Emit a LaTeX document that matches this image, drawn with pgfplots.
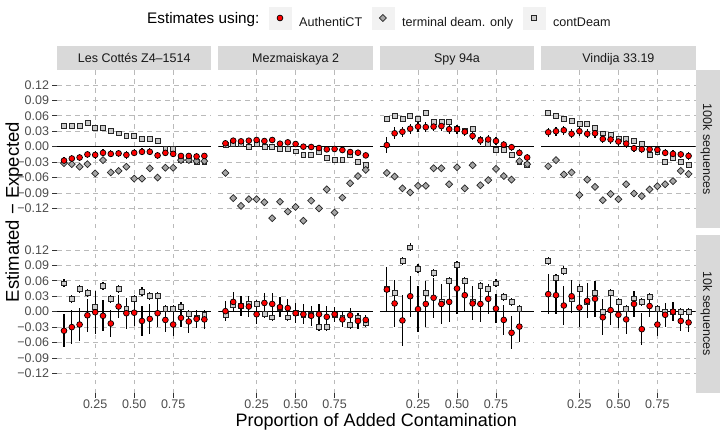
\documentclass[border=0pt]{standalone}
\usepackage{fontspec}
\setmainfont{Liberation Sans}
\usepackage{pgfplots}
\usepackage{pgfplotstable}
\pgfplotsset{compat=1.18}
\definecolor{redpt}{RGB}{255,0,0}

% x = proportion; a = AuthentiCT, ae = its error; t = terminal deam. only; c = contDeam
\pgfplotstableread{
x a ae t c
0.05 -0.027 0.007 -0.032 0.040
0.10 -0.023 0.007 -0.034 0.040
0.15 -0.021 0.007 -0.039 0.040
0.20 -0.015 0.007 -0.034 0.046
0.25 -0.016 0.007 -0.052 0.036
0.30 -0.012 0.007 -0.026 0.036
0.35 -0.014 0.007 -0.050 0.031
0.40 -0.013 0.007 -0.047 0.026
0.45 -0.016 0.007 -0.039 0.021
0.50 -0.012 0.007 -0.062 0.021
0.55 -0.010 0.007 -0.062 0.016
0.60 -0.010 0.007 -0.042 0.016
0.65 -0.017 0.007 -0.060 0.011
0.70 -0.012 0.007 -0.041 -0.005
0.75 -0.014 0.007 -0.041 -0.005
0.80 -0.018 0.006 -0.026 -0.026
0.85 -0.018 0.006 -0.026 -0.026
0.90 -0.019 0.006 -0.028 -0.030
0.95 -0.018 0.006 -0.028 -0.030
}\LCu
\pgfplotstableread{
x a ae t c
0.05 0.0065 0.005 -0.051 0.004
0.10 0.0117 0.005 -0.100 0.006
0.15 0.0104 0.005 -0.115 0.005
0.20 0.0117 0.005 -0.102 0.000
0.25 0.0130 0.005 -0.102 0.005
0.30 0.0110 0.005 -0.108 0.000
0.35 0.0130 0.005 -0.139 0.000
0.40 0.0058 0.005 -0.107 -0.005
0.45 0.0084 0.005 -0.126 -0.005
0.50 0.0052 0.005 -0.117 -0.009
0.55 0.0000 0.005 -0.144 -0.016
0.60 -0.0006 0.005 -0.105 -0.016
0.65 -0.0026 0.005 -0.120 -0.010
0.70 -0.0052 0.005 -0.083 -0.021
0.75 -0.0045 0.005 -0.128 -0.025
0.80 -0.0065 0.005 -0.099 -0.025
0.85 -0.0104 0.005 -0.071 -0.016
0.90 -0.0117 0.005 -0.057 -0.030
0.95 -0.0169 0.005 -0.045 -0.036
}\MZu
\pgfplotstableread{
x a ae t c
0.05 0.003 0.015 -0.051 0.054
0.10 0.026 0.012 -0.058 0.060
0.15 0.029 0.010 -0.081 0.054
0.20 0.035 0.010 -0.089 0.060
0.25 0.039 0.010 -0.076 0.054
0.30 0.038 0.010 -0.076 0.065
0.35 0.039 0.009 -0.042 0.049
0.40 0.040 0.009 -0.042 0.049
0.45 0.034 0.009 -0.073 0.049
0.50 0.034 0.009 -0.040 0.034
0.55 0.029 0.008 -0.081 0.030
0.60 0.021 0.008 -0.036 0.035
0.65 0.012 0.008 -0.075 0.013
0.70 0.014 0.008 -0.065 0.006
0.75 0.011 0.008 -0.043 -0.006
0.80 0.004 0.007 -0.057 -0.006
0.85 -0.001 0.007 -0.064 -0.015
0.90 -0.012 0.007 -0.028 -0.030
0.95 -0.021 0.007 -0.034 -0.036
}\SPu
\pgfplotstableread{
x a ae t c
0.05 0.028 0.009 -0.038 0.065
0.10 0.030 0.009 -0.026 0.060
0.15 0.032 0.009 -0.054 0.054
0.20 0.025 0.009 -0.050 0.050
0.25 0.030 0.009 -0.094 0.045
0.30 0.025 0.009 -0.064 0.045
0.35 0.026 0.009 -0.078 0.036
0.40 0.015 0.008 -0.104 0.026
0.45 0.014 0.008 -0.092 0.023
0.50 0.010 0.008 -0.102 0.015
0.55 0.006 0.008 -0.073 0.016
0.60 -0.003 0.007 -0.091 0.011
0.65 -0.005 0.007 -0.096 0.005
0.70 -0.005 0.007 -0.083 -0.015
0.75 -0.006 0.007 -0.077 -0.010
0.80 -0.012 0.007 -0.073 -0.030
0.85 -0.014 0.007 -0.067 -0.021
0.90 -0.015 0.007 -0.047 -0.030
0.95 -0.018 0.007 -0.053 -0.036
}\VIu
\pgfplotstableread{
x a ae c ce
0.05 -0.037 0.032 0.055 0.008
0.10 -0.030 0.033 0.025 0.008
0.15 -0.025 0.032 0.044 0.008
0.20 -0.007 0.032 0.036 0.008
0.25 -0.001 0.042 0.010 0.008
0.30 -0.008 0.030 0.050 0.008
0.35 -0.023 0.027 0.025 0.008
0.40 0.010 0.023 0.044 0.008
0.45 -0.003 0.030 0.005 0.008
0.50 -0.002 0.025 0.025 0.008
0.55 -0.018 0.029 0.039 0.008
0.60 -0.014 0.029 0.030 0.008
0.65 -0.003 0.026 0.030 0.008
0.70 -0.016 0.023 0.005 0.008
0.75 -0.025 0.023 0.005 0.008
0.80 -0.012 0.018 0.010 0.008
0.85 -0.019 0.023 -0.005 0.008
0.90 -0.014 0.018 -0.011 0.008
0.95 -0.015 0.018 -0.007 0.008
}\LCl
\pgfplotstableread{
x a ae c ce
0.05 0.001 0.019 -0.006 0.008
0.10 0.019 0.019 0.013 0.008
0.15 0.011 0.019 0.011 0.008
0.20 0.010 0.020 0.015 0.008
0.25 -0.005 0.018 0.015 0.008
0.30 0.017 0.020 -0.005 0.008
0.35 0.015 0.021 -0.011 0.008
0.40 0.009 0.020 0.008 0.008
0.45 0.007 0.018 -0.011 0.008
0.50 -0.003 0.019 -0.002 0.008
0.55 -0.005 0.019 -0.006 0.008
0.60 -0.008 0.019 -0.006 0.008
0.65 -0.005 0.020 -0.030 0.008
0.70 -0.010 0.022 -0.030 0.008
0.75 -0.005 0.015 -0.006 0.008
0.80 -0.015 0.015 -0.011 0.008
0.85 -0.007 0.015 -0.026 0.008
0.90 -0.018 0.015 -0.011 0.008
0.95 -0.016 0.010 -0.022 0.008
}\MZl
\pgfplotstableread{
x a ae c ce
0.05 0.043 0.043 0.045 0.008
0.10 0.016 0.045 0.036 0.008
0.15 -0.017 0.049 0.099 0.008
0.20 0.030 0.040 0.125 0.008
0.25 0.005 0.044 0.084 0.008
0.30 0.015 0.044 0.036 0.008
0.35 0.027 0.039 0.075 0.008
0.40 0.015 0.039 0.019 0.008
0.45 0.019 0.040 0.060 0.008
0.50 0.045 0.049 0.091 0.008
0.55 0.032 0.031 0.060 0.008
0.60 0.016 0.033 0.020 0.008
0.65 0.015 0.035 0.050 0.008
0.70 0.025 0.029 0.045 0.008
0.75 0.006 0.028 0.055 0.008
0.80 -0.016 0.029 0.029 0.008
0.85 -0.041 0.032 0.019 0.008
0.90 -0.029 0.029 0.005 0.008
}\SPl
\pgfplotstableread{
x a ae c ce
0.05 0.034 0.039 0.099 0.008
0.10 0.032 0.036 0.065 0.008
0.15 0.012 0.038 0.080 0.008
0.20 0.030 0.032 0.024 0.008
0.25 0.008 0.037 0.045 0.008
0.30 0.021 0.034 0.019 0.008
0.35 0.025 0.035 0.036 0.008
0.40 -0.011 0.035 0.000 0.008
0.45 0.003 0.029 0.036 0.008
0.50 -0.006 0.025 0.019 0.008
0.55 -0.015 0.028 0.005 0.008
0.60 0.015 0.026 0.026 0.008
0.65 -0.034 0.031 0.019 0.008
0.70 0.011 0.022 0.029 0.008
0.75 -0.025 0.023 0.005 0.008
0.80 -0.006 0.023 0.000 0.008
0.85 0.000 0.019 0.000 0.008
0.90 -0.018 0.020 0.000 0.008
0.95 -0.021 0.019 0.000 0.008
}\VIl

\pgfplotsset{
 panel/.style={
  width=154.4pt, height=158pt, scale only axis,
  xmin=0.005, xmax=0.995, ymin=-0.158, ymax=0.149,
  axis line style={draw=none},
  xtick={0.25,0.5,0.75},
  ytick={-0.12,-0.09,-0.06,-0.03,0,0.03,0.06,0.09,0.12},
  xmajorgrids, ymajorgrids,
  major grid style={black!27, line width=0.8pt, dash pattern=on 4.5pt off 4.5pt},
  tick align=outside, major tick length=4.5pt,
  xtick pos=bottom, ytick pos=left,
  xtick style={draw=none}, ytick style={draw=none},
  xticklabels={}, yticklabels={},
  ticklabel style={font=\fontsize{12.5}{14}\selectfont, text=black!70},
  xticklabel style={yshift=1.2pt},
  anchor=north west,
 },
 leftcol/.style={ytick style={draw=black!80, line width=0.8pt},
   yticklabels={−0.12,−0.09,−0.06,−0.03,0.00,0.03,0.06,0.09,0.12}},
 bottomrow/.style={xtick style={draw=black!80, line width=0.8pt},
   xticklabels={0.25,0.50,0.75}},
 mka/.style={only marks, mark=*, mark size=2.9pt, mark options={fill=redpt, draw=black, line width=0.7pt}},
 mkt/.style={only marks, mark=square*, mark size=2.45pt, mark options={rotate=45, fill=black!35, draw=black!85, line width=0.7pt}},
 mkc/.style={only marks, mark=square*, mark size=2.45pt, mark options={fill=black!20, draw=black!85, line width=0.7pt}},
 ebar/.style={error bars/.cd, y dir=both, y explicit, error mark=none, error bar style={line width=1.3pt, black}},
 zero/.style={black, line width=1.1pt, no marks},
}

\newcommand\upperplots[1]{%
 \addplot[mkc] table[x=x,y=c]{#1};
 \addplot[mkt] table[x=x,y=t]{#1};
 \addplot[zero] coordinates {(0.005,0) (0.995,0)};
 \addplot[mka, ebar] table[x=x,y=a,y error=ae]{#1};
}
\newcommand\lowerplots[1]{%
 \addplot[mkc, ebar] table[x=x,y=c,y error=ce]{#1};
 \addplot[zero] coordinates {(0.005,0) (0.995,0)};
 \addplot[mka, ebar] table[x=x,y=a,y error=ae]{#1};
}

\begin{document}
\begin{tikzpicture}
\useasboundingbox (0pt,0pt) rectangle (720pt,-430pt);

% strips
\foreach \xl/\xr/\lab in {57/211.4/{Les Cottés Z4–1514}, 218.4/372.8/{Mezmaiskaya 2}, 379.8/534.2/{Spy 94a}, 541.2/695.6/{Vindija 33.19}}{
  \fill[black!15] (\xl pt,-46pt) rectangle (\xr pt,-70pt);
  \node[anchor=base, inner sep=0pt, text=black!90, font=\fontsize{12.5}{14}\selectfont] at ({(\xl+\xr)/2*1pt},-63pt) {\lab};
}
\fill[black!15] (695.6pt,-70pt) rectangle (720pt,-228pt);
\fill[black!15] (695.6pt,-235pt) rectangle (720pt,-393pt);
\node[rotate=-90, anchor=base, inner sep=0pt, text=black!90, font=\fontsize{12.5}{14}\selectfont] at (703pt,-149pt) {100k sequences};
\node[rotate=-90, anchor=base, inner sep=0pt, text=black!90, font=\fontsize{12.5}{14}\selectfont] at (703pt,-314pt) {10k sequences};

% titles
\node[anchor=base, inner sep=0pt, font=\fontsize{18}{20}\selectfont] at (376.3pt,-426.5pt) {Proportion of Added Contamination};
\node[rotate=90, anchor=base, inner sep=0pt, font=\fontsize{18.5}{20}\selectfont] at (19pt,-212pt) {Estimated − Expected};
\node[anchor=base west, inner sep=0pt, font=\fontsize{15.3}{18}\selectfont] at (147pt,-23.5pt) {Estimates using:};

% upper row
\begin{axis}[panel, leftcol, at={(57pt,-70pt)},
  legend style={at={(1.3705,1.3291)}, anchor=west, draw=none, fill=none, inner sep=0pt,
    legend columns=-1, font=\fontsize{12.6}{14}\selectfont, text=black!90,
    nodes={inner sep=0pt},
    /tikz/every odd column/.append style={column sep=8pt},
    /tikz/every even column/.append style={column sep=9.5pt}},
  legend image code/.code={\fill[black!5] (0pt,-6.5pt) rectangle (22pt,15.5pt);
    \draw[mark repeat=2,mark phase=2,#1] plot coordinates {(0pt,4.5pt) (11pt,4.5pt) (22pt,4.5pt)};}]
\addlegendimage{mka}\addlegendentry{AuthentiCT}
\addlegendimage{mkt}\addlegendentry{terminal deam. only}
\addlegendimage{mkc}\addlegendentry{contDeam}
\upperplots{\LCu}
\end{axis}
\begin{axis}[panel, at={(218.4pt,-70pt)}]
\upperplots{\MZu}
\end{axis}
\begin{axis}[panel, at={(379.8pt,-70pt)}]
\upperplots{\SPu}
\end{axis}
\begin{axis}[panel, at={(541.2pt,-70pt)}]
\upperplots{\VIu}
\end{axis}

% lower row
\begin{axis}[panel, leftcol, bottomrow, at={(57pt,-235pt)}]
\lowerplots{\LCl}
\end{axis}
\begin{axis}[panel, bottomrow, at={(218.4pt,-235pt)}]
\lowerplots{\MZl}
\end{axis}
\begin{axis}[panel, bottomrow, at={(379.8pt,-235pt)}]
\lowerplots{\SPl}
\end{axis}
\begin{axis}[panel, bottomrow, at={(541.2pt,-235pt)}]
\lowerplots{\VIl}
\end{axis}
\end{tikzpicture}
\end{document}
